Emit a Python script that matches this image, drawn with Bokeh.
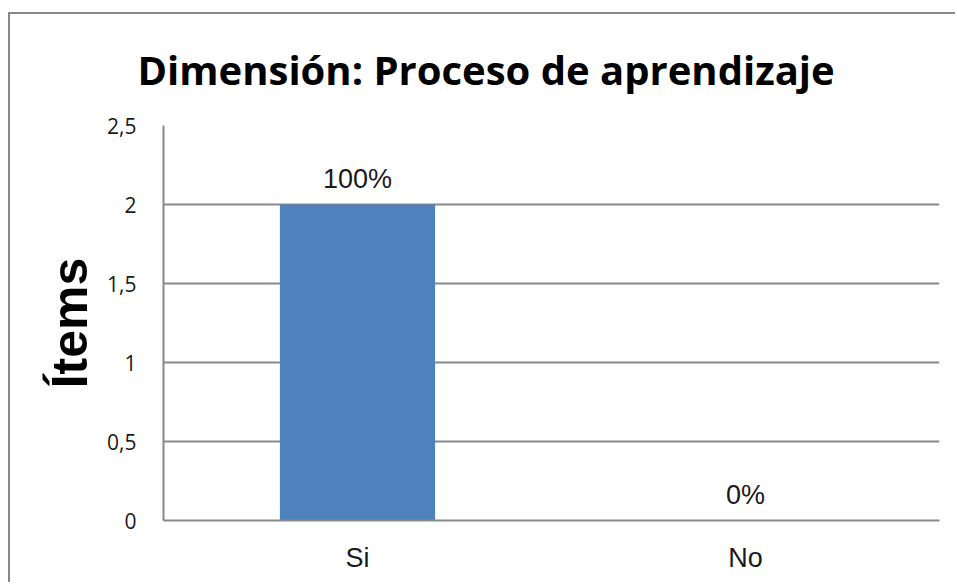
from bokeh.plotting import figure
from bokeh.models import ColumnDataSource, FactorRange, Range1d, FixedTicker, LabelSet
from bokeh.core.properties import value
from bokeh.embed import file_html
from bokeh.resources import INLINE

categories = ["Si", "No"]
values = [2, 0]
pct_labels = ["100%", "0%"]
y_ticks = [0, 0.5, 1, 1.5, 2, 2.5]
y_tick_labels = ["0", "0,5", "1", "1,5", "2", "2,5"]
title_text = "Dimensión: Proceso de aprendizaje"
y_label = "Ítems"

GRID = "#898989"
BAR = "#4F81BD"

src = ColumnDataSource(dict(cat=categories, val=values, lab=pct_labels))

p = figure(
    x_range=FactorRange(*categories),
    y_range=Range1d(0, 2.5),
    width=947, height=570,
    output_backend="svg", toolbar_location=None,
    min_border_left=153, min_border_right=18,
    min_border_top=111, min_border_bottom=64,
    title=title_text,
    styles={"border-left": "2px solid #888888", "border-top": "2px solid #888888",
            "margin-left": "8px", "margin-top": "12px"},
)
p.outline_line_color = None
p.background_fill_color = "white"
p.border_fill_color = "white"

p.title.text_font = "Open Sans"
p.title.text_font_style = "bold"
p.title.text_font_size = "40px"
p.title.text_color = "black"
p.title.align = "left"
p.title.offset = -26
p.title.vertical_align = "top"
p.title.standoff = 54

p.vbar(x="cat", top="val", width=0.4, source=src, fill_color=BAR, line_color=None)

labels = LabelSet(x="cat", y="val", text="lab", source=src,
                  text_align="center", text_baseline="bottom", y_offset=11,
                  text_font=value("Liberation Sans"), text_font_size=value("27px"),
                  text_color="#1a1a1a")
p.add_layout(labels)

p.yaxis.ticker = FixedTicker(ticks=y_ticks)
p.yaxis.major_label_overrides = {t: l for t, l in zip(y_ticks, y_tick_labels)}
p.yaxis.major_label_text_font = "Open Sans"
p.yaxis.major_label_text_font_size = "21px"
p.yaxis.major_label_text_color = "#1a1a1a"
p.yaxis.major_tick_line_color = None
p.yaxis.minor_tick_line_color = None
p.yaxis.major_label_standoff = 21
p.yaxis.axis_line_color = GRID
p.yaxis.axis_line_width = 2
p.yaxis.axis_label = y_label
p.yaxis.axis_label_text_font = "Liberation Sans"
p.yaxis.axis_label_text_font_style = "bold"
p.yaxis.axis_label_text_font_size = "50px"
p.yaxis.axis_label_text_color = "black"
p.yaxis.axis_label_standoff = 6

p.xaxis.major_label_text_font = "Liberation Sans"
p.xaxis.major_label_text_font_size = "27px"
p.xaxis.major_label_text_color = "#1a1a1a"
p.xaxis.major_tick_line_color = None
p.xaxis.major_label_standoff = 16
p.xaxis.axis_line_color = GRID
p.xaxis.axis_line_width = 2

p.xgrid.grid_line_color = None
p.ygrid.ticker = FixedTicker(ticks=y_ticks)
p.ygrid.grid_line_color = GRID
p.ygrid.grid_line_width = 2

open("out.html", "w").write(file_html(p, INLINE))
